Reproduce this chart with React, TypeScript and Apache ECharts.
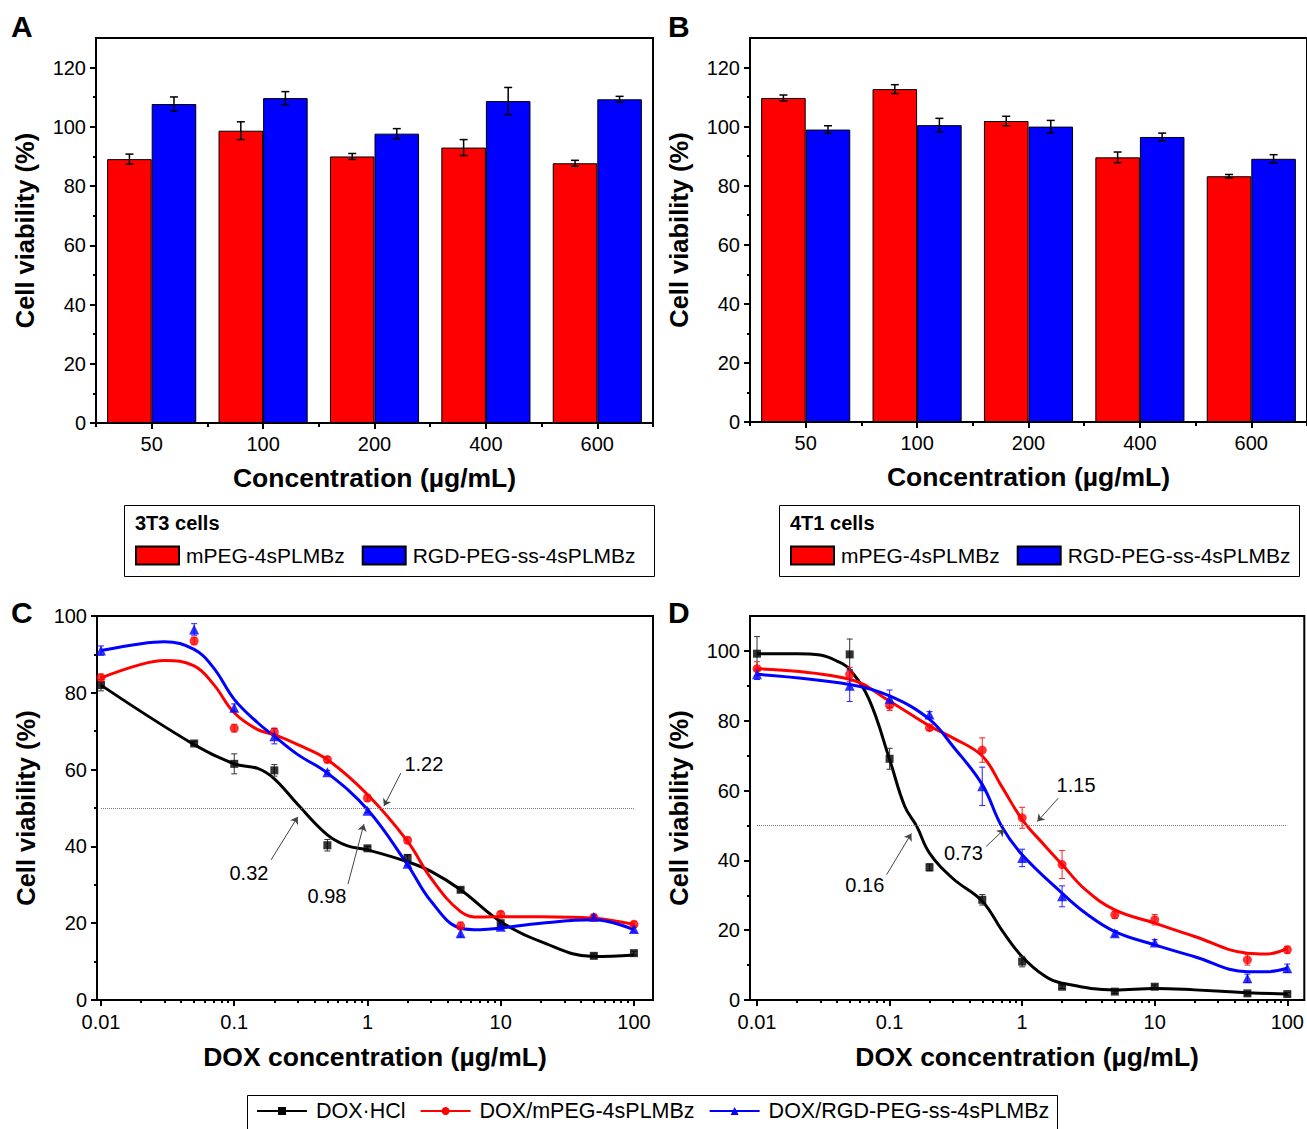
import React, { useEffect, useRef } from "react";
import * as echarts from "echarts";

// ---------- Data ----------
const barCategories = ["50", "100", "200", "400", "600"];
const a_mPEG = [89.1, 98.7, 90.0, 93.0, 87.7];
const a_mPEG_err = [1.7, 3.0, 1.0, 2.7, 1.0];
const a_RGD = [107.7, 109.7, 97.7, 108.7, 109.3];
const a_RGD_err = [2.4, 2.2, 1.7, 4.6, 1.0];
const b_mPEG = [109.7, 112.7, 101.9, 89.6, 83.2];
const b_mPEG_err = [1.0, 1.5, 1.6, 1.8, 0.6];
const b_RGD = [99.0, 100.5, 100.0, 96.5, 89.1];
const b_RGD_err = [1.3, 2.3, 2.1, 1.3, 1.4];

const doxConc = [0.01, 0.05, 0.1, 0.2, 0.5, 1, 2, 5, 10, 50, 100];
const c_HCl = [82.0, 66.8, 61.5, 59.8, 40.3, 39.5, 37.0, 28.7, 20.0, 11.5, 12.2];
const c_HCl_err = [1.5, 0.5, 2.6, 1.5, 1.5, 0.5, 0.8, 0.5, 0.5, 0.5, 0.5];
const c_mPEG = [83.9, 93.5, 70.8, 69.8, 62.6, 52.6, 41.6, 19.3, 22.3, 21.5, 19.7];
const c_mPEG_err = [1.0, 1.0, 1.0, 1.0, 0.8, 0.8, 0.8, 1.0, 0.8, 0.5, 0.8];
const c_RGD = [91.0, 96.5, 76.1, 68.7, 59.3, 49.3, 35.5, 17.4, 19.1, 21.7, 18.5];
const c_RGD_err = [1.2, 1.5, 1.0, 2.0, 0.5, 0.5, 0.5, 1.0, 0.8, 0.6, 0.8];

const d_HCl = [99.2, 99.0, 69.1, 38.0, 28.7, 11.0, 3.8, 2.4, 3.8, 1.9, 1.7];
const d_HCl_err = [4.9, 4.4, 3.0, 1.0, 1.5, 1.5, 0.5, 0.5, 0.5, 0.5, 0.5];
const d_mPEG = [94.9, 93.3, 84.4, 78.0, 71.6, 52.2, 38.8, 24.4, 23.0, 11.5, 14.4];
const d_mPEG_err = [2.0, 2.0, 1.5, 0.8, 3.5, 3.0, 4.0, 1.0, 1.5, 1.5, 1.0];
const d_RGD = [93.3, 90.0, 86.3, 81.8, 61.2, 40.7, 29.7, 19.1, 16.5, 6.2, 9.1];
const d_RGD_err = [1.5, 4.5, 2.5, 0.8, 5.5, 2.5, 3.0, 0.8, 0.8, 1.2, 1.2];

// fitted curves: [concentration, viability]
const curveC_HCl = [[0.01, 82], [0.05, 66.5], [0.1, 61.5], [0.15, 60.3], [0.2, 57.6], [0.3, 50.9], [0.5, 43], [0.7, 40.2], [1, 39.1], [2, 36], [3, 33.5], [5, 28.7], [10, 20.4], [20, 15.2], [50, 11.3], [100, 11.7]];
const curveC_mPEG = [[0.01, 83.9], [0.02, 87.4], [0.03, 88.4], [0.05, 87], [0.07, 82.2], [0.1, 74.8], [0.15, 70.4], [0.2, 69.1], [0.3, 66.5], [0.5, 62.6], [1, 53.5], [2, 41.3], [3, 31.7], [5, 23], [7, 21.6], [10, 21.7], [20, 21.7], [50, 21.3], [100, 19.7]];
const curveC_RGD = [[0.01, 91], [0.02, 92.8], [0.03, 93.3], [0.05, 91.3], [0.07, 86.5], [0.1, 78.3], [0.15, 72.2], [0.2, 68.7], [0.3, 63.9], [0.5, 59.1], [1, 49.6], [2, 35.2], [3, 25.7], [5, 18.7], [7, 18.3], [10, 18.7], [20, 20], [50, 20.9], [100, 18.3]];
const curveD_HCl = [[0.01, 99.2], [0.02, 99.2], [0.03, 98.8], [0.04, 97.1], [0.05, 94.7], [0.07, 86.1], [0.1, 68.9], [0.13, 55.5], [0.16, 49.8], [0.2, 42.1], [0.3, 34.8], [0.5, 28.3], [0.7, 20.1], [1, 12.4], [1.5, 6.7], [2, 4.8], [5, 2.9], [10, 3.3], [20, 2.9], [50, 2.1], [100, 1.7]];
const curveD_mPEG = [[0.01, 94.9], [0.05, 91.9], [0.1, 85.6], [0.2, 78.5], [0.3, 75.1], [0.5, 69.9], [0.7, 61.2], [1, 51.7], [1.5, 44], [2, 38.8], [3, 31.6], [5, 25.8], [10, 22], [20, 18.2], [50, 13.4], [70, 13.2], [100, 14.8]];
const curveD_RGD = [[0.01, 93.3], [0.05, 90.4], [0.1, 87.1], [0.2, 80.4], [0.3, 72.7], [0.5, 61.7], [0.7, 49.8], [1, 41.6], [2, 30.6], [3, 24.9], [5, 19.6], [10, 15.8], [20, 12.4], [50, 8.1], [70, 8.1], [100, 9.1]];

// IC50 annotations
const cLabels = [{ text: "1.22", at: [2.65, 61.5] }, { text: "0.32", at: [0.129, 33.1] }, { text: "0.98", at: [0.497, 27.1] }];
const cArrows = [{ from: [1.78, 59.1], to: [1.33, 50.5] }, { from: [0.189, 36.5], to: [0.3, 47.7] }, { from: [0.714, 30.2], to: [0.94, 45.8] }];
const dLabels = [{ text: "1.15", at: [2.55, 61.5] }, { text: "0.73", at: [0.36, 42] }, { text: "0.16", at: [0.065, 32.8] }];
const dArrows = [{ from: [1.87, 57.8], to: [1.3, 51.1] }, { from: [0.536, 44], to: [0.733, 48.9] }, { from: [0.095, 35.9], to: [0.146, 47.7] }];

const barYMajor = [0, 20, 40, 60, 80, 100, 120];
const barYMinor = [10, 30, 50, 70, 90, 110];
const lineYMajor = [0, 20, 40, 60, 80, 100];
const lineYMinor = [10, 30, 50, 70, 90];
const logTickValues = [0.01, 0.1, 1, 10, 100];
const logTickLabels = ["0.01", "0.1", "1", "10", "100"];
const logMinorMultipliers = [2, 3, 4, 5, 6, 7, 8, 9];

const seriesNames = ["DOX·HCl", "DOX/mPEG-4sPLMBz", "DOX/RGD-PEG-ss-4sPLMBz"];
const barNames = ["mPEG-4sPLMBz", "RGD-PEG-ss-4sPLMBz"];

// ---------- Styling ----------
const FONT = "'Liberation Sans', Arial, sans-serif";
const RED = "#ff0000";
const BLUE = "#0000ff";
const BLACK = "#000000";
const lg = (v: number) => Math.log10(v);
const logMinor: number[] = [];
[0.01, 0.1, 1, 10].forEach((d) => logMinorMultipliers.forEach((m) => logMinor.push(lg(d * m))));

const yNameStyle = { fontFamily: FONT, fontWeight: "bold", fontSize: 25.5, color: "#000" };
const xNameStyle = { fontFamily: FONT, fontWeight: "bold", fontSize: 26.5, color: "#000" };
const labelStyle = { fontFamily: FONT, fontSize: 20, color: "#000" };
const axisLine = { show: true, onZero: false, lineStyle: { color: "#000", width: 2 } };
const hiddenLine = { show: false, onZero: false };

function catAxes(grid: number) {
  return [
    {
      type: "category", gridIndex: grid, data: barCategories, position: "bottom",
      axisLine, axisTick: { show: true, length: 4, lineStyle: { color: "#000", width: 2 } },
      axisLabel: { ...labelStyle, margin: 11 },
      name: "Concentration (µg/mL)", nameLocation: "middle", nameGap: 41, nameTextStyle: xNameStyle,
    },
    {
      type: "category", gridIndex: grid, data: barCategories, position: "bottom",
      axisLine: hiddenLine, axisLabel: { show: false },
      axisTick: { show: true, alignWithLabel: true, length: 6, lineStyle: { color: "#000", width: 2 } },
    },
  ];
}
function logXAxes(grid: number, min: number, max: number) {
  const maj = logTickValues.map(lg);
  return [
    {
      type: "value", gridIndex: grid, min, max, position: "bottom", splitLine: { show: false },
      axisLine,
      axisTick: { show: true, length: 6, customValues: maj, lineStyle: { color: "#000", width: 2 } },
      axisLabel: {
        ...labelStyle, margin: 12, customValues: maj,
        formatter: (v: number) => {
          const i = maj.findIndex((m) => Math.abs(m - v) < 1e-6);
          return i >= 0 ? logTickLabels[i] : "";
        },
      },
      name: "DOX concentration (µg/mL)", nameLocation: "middle", nameGap: 43, nameTextStyle: xNameStyle,
    },
    {
      type: "value", gridIndex: grid, min, max, position: "bottom", splitLine: { show: false },
      axisLine: hiddenLine, axisLabel: { show: false },
      axisTick: { show: true, length: 3, customValues: logMinor, lineStyle: { color: "#000", width: 2 } },
    },
  ];
}
function yAxes(grid: number, max: number, major: number[], minor: number[]) {
  return [
    {
      type: "value", gridIndex: grid, min: 0, max, position: "left", splitLine: { show: false },
      axisLine,
      axisTick: { show: true, length: 6, customValues: major, lineStyle: { color: "#000", width: 2 } },
      axisLabel: { ...labelStyle, margin: 10, customValues: major },
      name: "Cell viability (%)", nameLocation: "middle", nameGap: 58, nameTextStyle: yNameStyle,
    },
    {
      type: "value", gridIndex: grid, min: 0, max, position: "left", splitLine: { show: false },
      axisLine: hiddenLine, axisLabel: { show: false },
      axisTick: { show: true, length: 3, customValues: minor, lineStyle: { color: "#000", width: 2 } },
    },
  ];
}

function barErr(name: string, xi: number, yi: number, vals: number[], errs: number[], sign: number) {
  return {
    type: "custom", name: name + " err", xAxisIndex: xi, yAxisIndex: yi, z: 5,
    encode: { x: 0, y: 1 },
    data: vals.map((v, i) => [i, v, errs[i]]),
    renderItem: (_p: any, api: any) => {
      const idx = api.value(0), v = api.value(1), e = api.value(2);
      const band = api.size([1, 0])[0];
      const bw = (band * 0.8) / 2;
      const c = api.coord([idx, v]);
      const x = c[0] + (sign * bw) / 2;
      const yT = api.coord([idx, v + e])[1];
      const yB = api.coord([idx, v - e])[1];
      const cap = 4;
      const style = { stroke: "#000", lineWidth: 1.5 };
      return {
        type: "group",
        children: [
          { type: "line", shape: { x1: x, y1: yT, x2: x, y2: yB }, style },
          { type: "line", shape: { x1: x - cap, y1: yT, x2: x + cap, y2: yT }, style },
          { type: "line", shape: { x1: x - cap, y1: yB, x2: x + cap, y2: yB }, style },
        ],
      };
    },
  };
}
function pointErr(xi: number, yi: number, vals: number[], errs: number[], color: string) {
  return {
    type: "custom", xAxisIndex: xi, yAxisIndex: yi, z: 4,
    encode: { x: 0, y: 1 },
    data: vals.map((v, i) => [lg(doxConc[i]), v, errs[i]]),
    renderItem: (_p: any, api: any) => {
      const xv = api.value(0), v = api.value(1), e = api.value(2);
      const x = api.coord([xv, v])[0];
      const yT = api.coord([xv, v + e])[1];
      const yB = api.coord([xv, v - e])[1];
      const cap = 3;
      const style = { stroke: color, lineWidth: 1 };
      return {
        type: "group",
        children: [
          { type: "line", shape: { x1: x, y1: yT, x2: x, y2: yB }, style },
          { type: "line", shape: { x1: x - cap, y1: yT, x2: x + cap, y2: yT }, style },
          { type: "line", shape: { x1: x - cap, y1: yB, x2: x + cap, y2: yB }, style },
        ],
      };
    },
  };
}

function barPanel(xi: number, yi: number, red: number[], redErr: number[], blue: number[], blueErr: number[]) {
  const border = { borderColor: "#000", borderWidth: 1 };
  return [
    { type: "bar", name: barNames[0], xAxisIndex: xi, yAxisIndex: yi, data: red, barGap: "0%", barCategoryGap: "20%", itemStyle: { color: RED, ...border } },
    { type: "bar", name: barNames[1], xAxisIndex: xi, yAxisIndex: yi, data: blue, barGap: "0%", barCategoryGap: "20%", itemStyle: { color: BLUE, ...border } },
    barErr(barNames[0], xi, yi, red, redErr, -1),
    barErr(barNames[1], xi, yi, blue, blueErr, 1),
  ];
}

function linePanel(xi: number, yi: number, curves: number[][][], pts: number[][], errs: number[][], labels: any[], arrows: any[]) {
  const colors = [BLACK, RED, BLUE];
  const symbols = ["rect", "circle", "triangle"];
  const sizes = [8, 9, 10];
  const errColors = ["#333333", "#ff2020", "#2020ff"];
  const out: any[] = [];
  curves.forEach((cv, k) => {
    out.push({
      type: "line", name: seriesNames[k], xAxisIndex: xi, yAxisIndex: yi, smooth: 0.4,
      symbol: symbols[k], showSymbol: false, z: 3,
      data: cv.map((p) => [lg(p[0]), p[1]]),
      lineStyle: { color: colors[k], width: 3 }, itemStyle: { color: colors[k] },
      ...(k === 0
        ? {
            markLine: {
              silent: true, symbol: ["none", "none"], label: { show: false },
              lineStyle: { type: "dotted", color: "#777", width: 1 },
              data: [[{ coord: [lg(doxConc[0]), 50] }, { coord: [lg(doxConc[doxConc.length - 1]), 50] }]],
            },
          }
        : {}),
    });
  });
  pts.forEach((vals, k) => {
    out.push({
      type: "scatter", name: seriesNames[k] + " data", xAxisIndex: xi, yAxisIndex: yi, z: 6,
      symbol: symbols[k], symbolSize: sizes[k],
      data: vals.map((v, i) => [lg(doxConc[i]), v]),
      itemStyle: { color: colors[k] },
    });
    out.push(pointErr(xi, yi, vals, errs[k], errColors[k]));
  });
  out.push({
    type: "scatter", name: "annotations", xAxisIndex: xi, yAxisIndex: yi, z: 7,
    symbolSize: 1, itemStyle: { color: "#fff", opacity: 1 },
    data: labels.map((l) => [lg(l.at[0]), l.at[1], l.text]),
    label: {
      show: true, position: "inside", formatter: (p: any) => p.value[2],
      fontFamily: FONT, fontSize: 20, color: "#000", opacity: 1, textBorderWidth: 0,
    },
    markLine: {
      silent: true, symbol: ["none", "arrow"], symbolSize: 7, label: { show: false },
      lineStyle: { color: "#444", width: 1, type: "solid" },
      data: arrows.map((a) => [{ coord: [lg(a.from[0]), a.from[1]] }, { coord: [lg(a.to[0]), a.to[1]] }]),
    },
  });
  return out;
}

export default function App() {
  const ref = useRef<HTMLDivElement>(null);
  useEffect(() => {
    if (!ref.current) return;
    const chart = echarts.init(ref.current, undefined, { renderer: "svg" });
    const gridCommon = { show: true, borderColor: "#000", borderWidth: 2, backgroundColor: "transparent", containLabel: false };
    const barLegend = (left: number) => ({
      data: barNames, left, top: 545, orient: "horizontal", icon: "rect",
      itemWidth: 43, itemHeight: 18, itemGap: 17, selectedMode: false, padding: 0,
      textStyle: { fontFamily: FONT, fontSize: 21, color: "#000", padding: [0, 0, 0, 2] },
    });
    const option: any = {
      animation: false,
      backgroundColor: "#fff",
      grid: [
        { ...gridCommon, left: 96, top: 38, width: 557, height: 385 },
        { ...gridCommon, left: 750, top: 38, width: 558, height: 384 },
        { ...gridCommon, left: 97, top: 616, width: 556, height: 384 },
        { ...gridCommon, left: 750, top: 616, width: 556, height: 384 },
      ],
      xAxis: [
        ...catAxes(0),
        ...catAxes(1),
        ...logXAxes(2, -2.03, 2.143),
        ...logXAxes(3, -2.053, 2.128),
      ],
      yAxis: [
        ...yAxes(0, 130, barYMajor, barYMinor),
        ...yAxes(1, 130, barYMajor, barYMinor),
        ...yAxes(2, 100, lineYMajor, lineYMinor),
        ...yAxes(3, 110, lineYMajor, lineYMinor),
      ],
      legend: [
        barLegend(135),
        barLegend(790),
        {
          data: seriesNames, left: 256, top: 1100, orient: "horizontal",
          itemWidth: 50, itemHeight: 10, itemGap: 14, selectedMode: false, padding: 0,
          textStyle: { fontFamily: FONT, fontSize: 21.5, color: "#000", padding: [0, 0, 0, 4] },
        },
      ],
      graphic: [
        { type: "text", left: 11, top: 11, style: { text: "A", font: `bold 30px ${FONT}`, fill: "#000" } },
        { type: "text", left: 668, top: 11, style: { text: "B", font: `bold 30px ${FONT}`, fill: "#000" } },
        { type: "text", left: 11, top: 597, style: { text: "C", font: `bold 30px ${FONT}`, fill: "#000" } },
        { type: "text", left: 668, top: 597, style: { text: "D", font: `bold 30px ${FONT}`, fill: "#000" } },
        { type: "rect", left: 122, top: 503, shape: { width: 530, height: 71 }, style: { fill: "none", stroke: "#000", lineWidth: 1 } },
        { type: "rect", left: 777, top: 503, shape: { width: 520, height: 71 }, style: { fill: "none", stroke: "#000", lineWidth: 1 } },
        { type: "rect", left: 245, top: 1093, shape: { width: 810, height: 40 }, style: { fill: "none", stroke: "#000", lineWidth: 1 } },
        { type: "text", left: 135, top: 513, style: { text: "3T3 cells", font: `bold 20px ${FONT}`, fill: "#000" } },
        { type: "text", left: 790, top: 513, style: { text: "4T1 cells", font: `bold 20px ${FONT}`, fill: "#000" } },
      ],
      series: [
        ...barPanel(0, 0, a_mPEG, a_mPEG_err, a_RGD, a_RGD_err),
        ...barPanel(2, 2, b_mPEG, b_mPEG_err, b_RGD, b_RGD_err),
        ...linePanel(4, 4, [curveC_HCl, curveC_mPEG, curveC_RGD], [c_HCl, c_mPEG, c_RGD], [c_HCl_err, c_mPEG_err, c_RGD_err], cLabels, cArrows),
        ...linePanel(6, 6, [curveD_HCl, curveD_mPEG, curveD_RGD], [d_HCl, d_mPEG, d_RGD], [d_HCl_err, d_mPEG_err, d_RGD_err], dLabels, dArrows),
      ],
    };
    chart.setOption(option);
    return () => chart.dispose();
  }, []);
  return (
    <div
      ref={ref}
      style={{ position: "fixed", left: 0, top: 0, width: 1307, height: 1129, background: "#fff" }}
    />
  );
}
